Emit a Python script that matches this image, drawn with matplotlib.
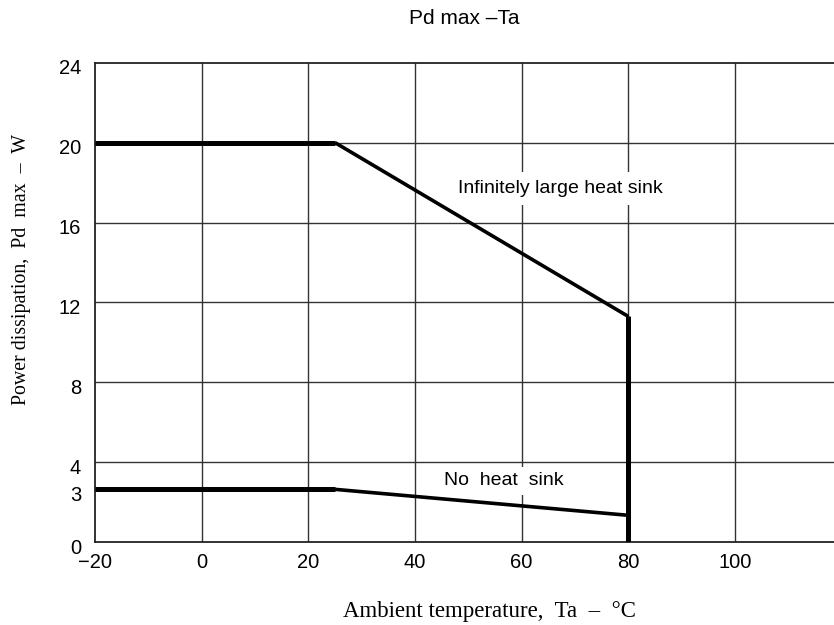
import numpy as np
import matplotlib
matplotlib.use("Agg")
import matplotlib.pyplot as plt
import matplotlib.transforms as mtransforms

# curve data
ta_sink = [-20, 25, 80, 80]
pd_sink = [20, 20, 11.3, 0]
ta_nosink = [-20, 25, 80]
pd_nosink = [2.65, 2.65, 1.35]

xticks = [-20, 0, 20, 40, 60, 80, 100, 120]
xtick_lbl = ["\u221220", "0", "20", "40", "60", "80", "100", ""]
yticks = [0, 2.65, 4, 8, 12, 16, 20, 24]
ytick_lbl = ["0", "3", "4", "8", "12", "16", "20", "24"]

sans = ["Liberation Sans", "DejaVu Sans"]
serif = ["Liberation Serif", "DejaVu Serif"]

fig = plt.figure(figsize=(8.34, 6.25), dpi=100)
ax = fig.add_axes([95/834, 1-542.3/625, 746.7/834, 479.6/625])
ax.set_xlim(-20, 120)
ax.set_ylim(0, 24)

ax.set_xticks(xticks)
ax.set_xticklabels(xtick_lbl, family=sans, fontsize=14.5)
ax.set_yticks(yticks)
ax.set_yticklabels(ytick_lbl, family=sans, fontsize=14.5)
ax.tick_params(length=0, pad=8)
ax.tick_params(axis="y", pad=10)
off = mtransforms.ScaledTranslation(0, -4/100, fig.dpi_scale_trans)
for lb in ax.get_yticklabels():
    lb.set_transform(lb.get_transform() + off)

# grid lines (the 2.65 tick has no grid line)
for x in xticks[1:]:
    ax.axvline(x, color="#333333", lw=1, zorder=1)
for y in [4, 8, 12, 16, 20]:
    ax.axhline(y, color="#333333", lw=1, zorder=1)

for s in ["left", "bottom", "top"]:
    ax.spines[s].set_color("#222222")
    ax.spines[s].set_linewidth(1.3)
ax.spines["right"].set_visible(False)

# curves: flat part thicker than the slope, like the original drawing
ax.plot(ta_sink[:2], pd_sink[:2], color="black", lw=3.6, solid_capstyle="butt", zorder=3)
ax.plot(ta_sink[1:3], pd_sink[1:3], color="black", lw=2.6, solid_capstyle="butt", zorder=3)
ax.plot(ta_sink[2:], pd_sink[2:], color="black", lw=3.6, solid_capstyle="butt", zorder=4)
ax.plot(ta_nosink[:2], pd_nosink[:2], color="black", lw=3.6, solid_capstyle="butt", zorder=3)
ax.plot(ta_nosink[1:], pd_nosink[1:], color="black", lw=2.6, solid_capstyle="butt", zorder=3)

ax.text(48.1, 17.7, "Infinitely large heat sink", family=sans, fontsize=14,
        ha="left", va="center", zorder=2,
        bbox=dict(fc="white", ec="none", pad=6))
ax.text(45.4, 3.08, "No  heat  sink", family=sans, fontsize=14,
        ha="left", va="center", zorder=2,
        bbox=dict(fc="white", ec="none", pad=4))

fig.text(464/834, 1-19/625, "Pd max \u2013Ta", family=sans, fontsize=15,
         ha="center", va="center")
fig.text(489/834, 1-611.7/625, "Ambient temperature,  Ta  \u2013  \u00b0C", family=serif,
         fontsize=16.5, ha="center", va="center")
fig.text(22/834, 1-270/625, "Power dissipation,  Pd  max  \u2013  W", family=serif,
         fontsize=14.3, ha="center", va="center", rotation=90)

fig.savefig("out.png", dpi=100)
